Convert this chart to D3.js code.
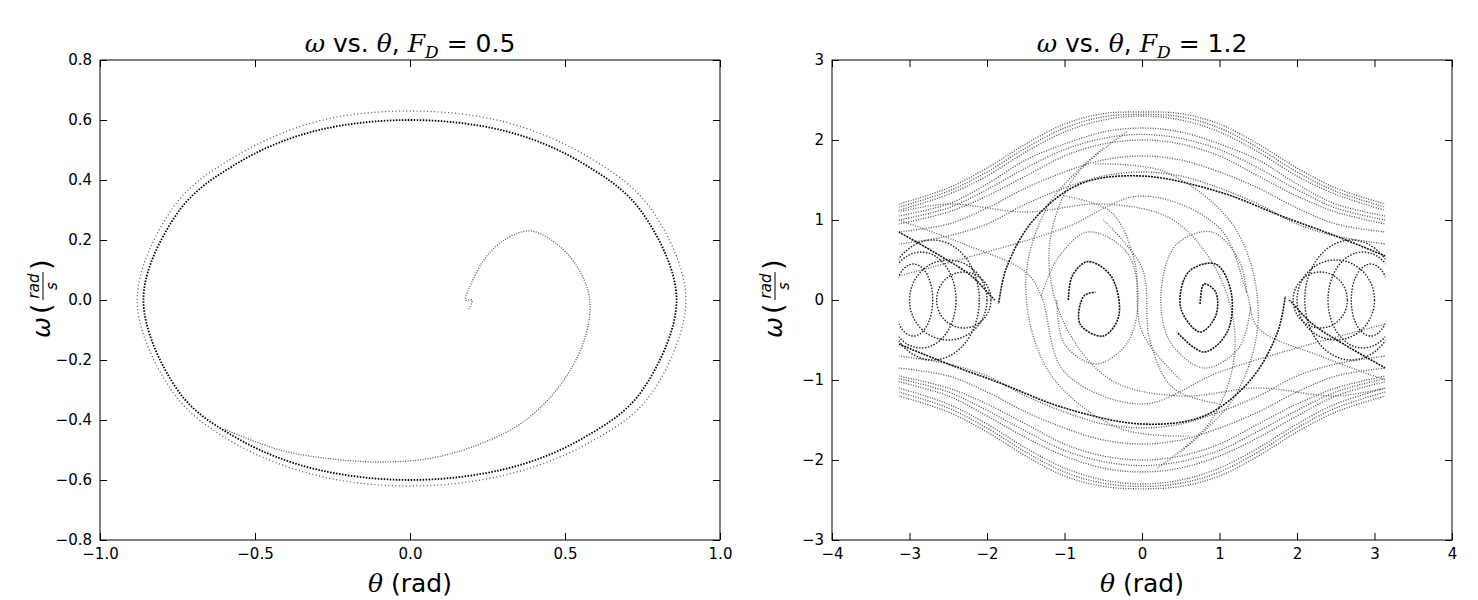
<!DOCTYPE html><html><head><meta charset="utf-8">
<script src="https://cdn.jsdelivr.net/npm/d3@7"></script>
<style>body{margin:0;background:#fff}text{font-family:"DejaVu Sans",sans-serif}</style></head><body>
<svg id="c" width="1478" height="600"></svg>
<script>
// ---- left panel data (F_D = 0.5) ----
const leftXTicks=[-1.0,-0.5,0.0,0.5,1.0];
const leftYTicks=[0.8,0.6,0.4,0.2,0.0,-0.2,-0.4,-0.6,-0.8];
const leftBlackLoop=[[0,0.6],[0.3,0.565],[0.55,0.46],[0.75,0.29],[0.86,0],[0.75,-0.3],[0.55,-0.465],[0.3,-0.565],[0,-0.6],[-0.3,-0.565],[-0.55,-0.465],[-0.75,-0.3],[-0.86,0],[-0.75,0.29],[-0.55,0.46],[-0.3,0.565]];
const leftGrayLoop=[[0,0.63],[0.3,0.595],[0.57,0.48],[0.78,0.3],[0.89,0],[0.78,-0.31],[0.57,-0.48],[0.3,-0.585],[0,-0.62],[-0.3,-0.585],[-0.57,-0.475],[-0.77,-0.3],[-0.88,0],[-0.77,0.3],[-0.57,0.475],[-0.3,0.595]];
const leftSpiral=[[0.19,-0.03],[0.2,0.0],[0.18,0.0],[0.2,0.06],[0.25,0.15],[0.32,0.21],[0.39,0.23],[0.47,0.19],[0.54,0.11],[0.58,0.0],[0.56,-0.14],[0.48,-0.29],[0.36,-0.41],[0.2,-0.49],[0.05,-0.53],[-0.1,-0.54],[-0.25,-0.53],[-0.42,-0.5],[-0.6,-0.43]];
// ---- right panel data (F_D = 1.2) ----
const rightXTicks=[-4,-3,-2,-1,0,1,2,3,4];
const rightYTicks=[3,2,1,0,-1,-2,-3];
const bandTheta=[-3.14,-2.5,-2,-1.5,-1,-0.5,0,0.5,1,1.5,2,2.5,3.14];
const topBands=[
 [1.2,1.4,1.65,1.95,2.2,2.33,2.35,2.33,2.2,1.95,1.65,1.4,1.2],
 [1.16,1.36,1.6,1.9,2.15,2.29,2.32,2.29,2.15,1.9,1.6,1.36,1.16],
 [1.12,1.32,1.55,1.85,2.1,2.25,2.3,2.25,2.1,1.85,1.55,1.32,1.12],
 [1.05,1.2,1.45,1.75,1.95,2.1,2.15,2.1,1.95,1.75,1.45,1.2,1.05],
 [1.0,1.15,1.38,1.65,1.88,2.02,2.07,2.02,1.88,1.65,1.38,1.15,1.0],
 [0.95,1.1,1.3,1.55,1.8,1.95,2.0,1.95,1.8,1.55,1.3,1.1,0.95],
 [0.85,0.95,1.15,1.4,1.6,1.75,1.8,1.75,1.6,1.4,1.15,0.95,0.85],
 [0.7,0.8,0.95,1.2,1.4,1.55,1.6,1.55,1.4,1.2,0.95,0.8,0.7]];
const bottomBands=[
 [-1.2,-1.4,-1.65,-1.95,-2.2,-2.33,-2.36,-2.33,-2.2,-1.95,-1.65,-1.4,-1.2],
 [-1.15,-1.35,-1.6,-1.9,-2.15,-2.29,-2.33,-2.29,-2.15,-1.9,-1.6,-1.35,-1.15],
 [-1.1,-1.3,-1.55,-1.85,-2.1,-2.25,-2.3,-2.25,-2.1,-1.85,-1.55,-1.3,-1.1],
 [-1.02,-1.2,-1.45,-1.72,-1.95,-2.1,-2.15,-2.1,-1.95,-1.72,-1.45,-1.2,-1.02],
 [-0.98,-1.15,-1.38,-1.64,-1.88,-2.02,-2.07,-2.02,-1.88,-1.64,-1.38,-1.15,-0.98],
 [-0.95,-1.1,-1.3,-1.55,-1.8,-1.95,-2.0,-1.95,-1.8,-1.55,-1.3,-1.1,-0.95],
 [-0.85,-0.95,-1.15,-1.4,-1.6,-1.75,-1.8,-1.75,-1.6,-1.4,-1.15,-0.95,-0.85],
 [-0.7,-0.8,-0.95,-1.2,-1.4,-1.55,-1.6,-1.55,-1.4,-1.2,-0.95,-0.8,-0.7]];
const rightBlackCurves=[
 [[-3.14,0.85],[-2.6,0.55],[-2.2,0.3],[-1.95,0.05],[-1.9,0]],
 [[-3.14,-0.55],[-2.5,-0.8],[-1.8,-1.05],[-1.0,-1.35],[0,-1.55],[0.8,-1.45],[1.4,-1.0],[1.75,-0.4],[1.85,0.05]],
 [[3.14,0.55],[2.5,0.8],[1.8,1.05],[1.0,1.35],[0,1.55],[-0.8,1.45],[-1.4,1.0],[-1.75,0.4],[-1.85,-0.05]],
 [[3.14,-0.85],[2.6,-0.55],[2.2,-0.3],[1.95,-0.05],[1.9,0]],
 [[-0.95,0],[-0.9,0.3],[-0.7,0.48],[-0.4,0.3],[-0.3,-0.2],[-0.5,-0.45],[-0.8,-0.3],[-0.75,0.05],[-0.6,0.1]],
 [[0.75,-0.05],[0.8,0.2],[0.95,0.1],[0.95,-0.2],[0.75,-0.4],[0.5,-0.1],[0.6,0.35],[0.95,0.45],[1.15,0.1],[1.1,-0.4],[0.8,-0.65],[0.45,-0.4]]];
const rightGrayCurves=[
 [[-1.3,0.05],[-1.1,0.5],[-0.7,0.85],[-0.2,0.6],[-0.05,0.0],[-0.2,-0.55],[-0.6,-0.8],[-1.0,-0.55],[-1.1,0.0]],
 [[1.35,0.1],[1.25,0.5],[0.9,0.85],[0.45,0.7],[0.25,0.15],[0.35,-0.5],[0.8,-0.85],[1.25,-0.6],[1.4,-0.1]],
 [[-3.14,1.0],[-2.3,0.7],[-1.5,0.35],[-1.3,0.05],[-1.0,-0.9],[0,-1.3],[1.0,-0.9],[2.0,-0.6],[3.14,-0.3]],
 [[3.14,-1.0],[2.3,-0.7],[1.5,-0.35],[1.35,0.1],[1.0,0.9],[0,1.3],[-1.0,0.9],[-2.0,0.6],[-3.14,0.3]],
 [[-0.5,1.9],[-1.2,1.2],[-1.5,0.2],[-1.2,-0.9],[-0.3,-1.6],[0.6,-1.7]],
 [[0.5,-1.9],[1.2,-1.2],[1.5,-0.2],[1.2,0.9],[0.3,1.6],[-0.6,1.7]],
 [[-0.2,2.1],[-0.9,1.5],[-1.2,0.6],[-1.0,-0.3],[-0.4,-1.0],[0.5,-1.2],[1.5,-1.1],[2.5,-1.2],[3.14,-1.1]],
 [[0.2,-2.1],[0.9,-1.5],[1.2,-0.6],[1.0,0.3],[0.4,1.0],[-0.5,1.2],[-1.5,1.1],[-2.5,1.2],[-3.14,1.1]],
 [[-0.5,1.0],[0.0,0.4],[0.1,-0.5],[0.4,-1.1],[1.0,-1.3]],
 [[0.5,-1.0],[0.0,-0.4],[-0.1,0.5],[-0.4,1.1],[-1.0,1.3]]];
const edgeLoops=[[-2.95,0.25,0.45],[-2.85,0.45,0.6],[-2.7,0.6,0.75],[-2.5,0.5,0.5],[-2.3,0.35,0.35],
                 [2.95,0.25,0.45],[2.85,0.45,0.6],[2.7,0.6,0.75],[2.5,0.5,0.5],[2.3,0.35,0.35]];

const svg=d3.select("#c");
function panel(x0,x1,y0,y1,xd,yd,xt,yt,fmtX,fmtY,title){
  const g=svg.append("g");
  const x=d3.scaleLinear().domain(xd).range([x0,x1]);
  const y=d3.scaleLinear().domain(yd).range([y1,y0]);
  const clip="cl"+x0;
  svg.append("clipPath").attr("id",clip).append("rect").attr("x",x0).attr("y",y0).attr("width",x1-x0).attr("height",y1-y0);
  const pg=g.append("g").attr("clip-path",`url(#${clip})`);
  const mk=(ax,sc,ticks,fmt,tr,mirror)=>{const a=ax(sc).tickValues(ticks).tickSizeInner(-7).tickSizeOuter(0).tickPadding(8).tickFormat(mirror?"":fmt);
    const gg=g.append("g").attr("transform",tr).call(a);gg.select(".domain").remove();
    gg.selectAll("text").attr("font-size",15).attr("fill","#000");gg.selectAll("line").attr("stroke","#000");};
  mk(d3.axisBottom,x,xt,fmtX,`translate(0,${y1})`,false);
  mk(d3.axisTop,x,xt,fmtX,`translate(0,${y0})`,true);
  mk(d3.axisLeft,y,yt,fmtY,`translate(${x0},0)`,false);
  mk(d3.axisRight,y,yt,fmtY,`translate(${x1},0)`,true);
  g.append("rect").attr("x",x0).attr("y",y0).attr("width",x1-x0).attr("height",y1-y0).attr("fill","none").attr("stroke","#000");
  const t=g.append("text").attr("x",(x0+x1)/2).attr("y",y0-8).attr("text-anchor","middle").attr("font-size",25);
  t.append("tspan").attr("font-family","DejaVu Serif").attr("font-style","italic").text("ω");
  t.append("tspan").text(" vs. ");
  t.append("tspan").attr("font-family","DejaVu Serif").attr("font-style","italic").text("θ");
  t.append("tspan").text(", ");
  t.append("tspan").attr("font-family","DejaVu Serif").attr("font-style","italic").text("F");
  t.append("tspan").attr("font-family","DejaVu Serif").attr("font-style","italic").attr("font-size",17).attr("dy",6).text("D");
  t.append("tspan").attr("dy",-6).text(" = "+title);
  const xl=g.append("text").attr("x",(x0+x1)/2).attr("y",y1+52).attr("text-anchor","middle").attr("font-size",25);
  xl.append("tspan").attr("font-family","DejaVu Serif").attr("font-style","italic").text("θ");
  xl.append("tspan").text(" (rad)");
  const yl=g.append("g").attr("transform",`translate(${x0-58},${(y0+y1)/2}) rotate(-90)`);
  yl.append("text").attr("x",-38).attr("y",8).attr("font-size",25).attr("font-family","DejaVu Serif").attr("font-style","italic").text("ω");
  yl.append("text").attr("x",-14).attr("y",8).attr("font-size",27).text("(");
  yl.append("text").attr("x",14).attr("y",-3).attr("text-anchor","middle").attr("font-size",15).attr("font-family","DejaVu Serif").attr("font-style","italic").text("rad");
  yl.append("line").attr("x1",0).attr("x2",28).attr("y1",1).attr("y2",1).attr("stroke","#000");
  yl.append("text").attr("x",14).attr("y",15).attr("text-anchor","middle").attr("font-size",15).attr("font-family","DejaVu Serif").attr("font-style","italic").text("s");
  yl.append("text").attr("x",30).attr("y",8).attr("font-size",27).text(")");
  return {x,y,pg};
}
const f1=d=>d3.format(".1f")(d).replace("-","−");
const f0=d=>String(d).replace("-","−");
const L=panel(100,720,60,540,[-1,1],[-0.8,0.8],leftXTicks,leftYTicks,f1,f1,"0.5");
const R=panel(832,1452,60,540,[-4,4],[-3,3],rightXTicks,rightYTicks,f0,f0,"1.2");
function draw(P,pts,closed,color,dash,w,op){
  const ln=d3.line().x(d=>P.x(d[0])).y(d=>P.y(d[1])).curve(closed?d3.curveCardinalClosed:d3.curveCatmullRom);
  P.pg.append("path").attr("d",ln(pts)).attr("fill","none").attr("stroke",color).attr("stroke-width",w).attr("stroke-dasharray",dash).attr("opacity",op);
}
draw(L,leftGrayLoop,true,"#555","1 2.5",1.3,1);
draw(L,leftBlackLoop,true,"#000","1.5 1.5",1.8,1);
draw(L,leftSpiral,false,"#555","1 1.5",1.3,1);
topBands.forEach(b=>draw(R,bandTheta.map((t,i)=>[t,b[i]]),false,"#333","1 1.5",1.3,0.85));
bottomBands.forEach(b=>draw(R,bandTheta.map((t,i)=>[t,b[i]]),false,"#333","1 1.5",1.3,0.85));
rightGrayCurves.forEach(c=>draw(R,c,false,"#444","1 1.5",1.3,0.85));
edgeLoops.forEach(e=>R.pg.append("ellipse").attr("cx",R.x(e[0])).attr("cy",R.y(0)).attr("rx",R.x(e[1])-R.x(0)).attr("ry",R.y(0)-R.y(e[2])).attr("fill","none").attr("stroke","#222").attr("stroke-width",1.4).attr("stroke-dasharray","1.5 1.5"));
rightBlackCurves.forEach(c=>draw(R,c,false,"#111","2 1",1.6,1));
R.pg.append("rect").attr("x",R.x(-4)).attr("y",60).attr("width",R.x(-3.14)-R.x(-4)).attr("height",480).attr("fill","#fff");
R.pg.append("rect").attr("x",R.x(3.14)).attr("y",60).attr("width",R.x(4)-R.x(3.14)).attr("height",480).attr("fill","#fff");
</script></body></html>
